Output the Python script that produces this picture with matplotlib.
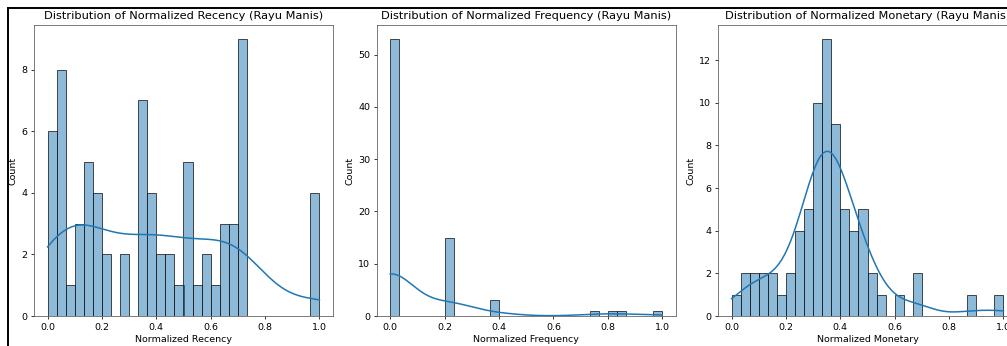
import numpy as np
import matplotlib
matplotlib.use("Agg")
import matplotlib.pyplot as plt
from matplotlib.lines import Line2D
import seaborn as sns

# ---- data: counts per histogram bin (30 equal bins on [0, 1]) ----
n_bins = 30
recency_counts = [6, 8, 1, 3, 5, 4, 2, 0, 2, 0, 7, 4, 2, 2, 1,
                  5, 1, 2, 1, 3, 3, 9, 0, 0, 0, 0, 0, 0, 0, 4]
frequency_counts = [53, 0, 0, 0, 0, 0, 15, 0, 0, 0, 0, 3, 0, 0, 0,
                    0, 0, 0, 0, 0, 0, 0, 1, 0, 1, 1, 0, 0, 0, 1]
monetary_counts = [1, 2, 2, 2, 2, 1, 2, 4, 5, 10, 13, 9, 5, 4, 5,
                   2, 1, 0, 1, 0, 2, 0, 0, 0, 0, 0, 1, 0, 0, 1]

titles = ["Distribution of Normalized Recency (Rayu Manis)",
          "Distribution of Normalized Frequency (Rayu Manis)",
          "Distribution of Normalized Monetary (Rayu Manis)"]
xlabels = ["Normalized Recency", "Normalized Frequency", "Normalized Monetary"]
ylabel = "Count"


def expand(counts):
    """Turn per-bin counts into sample values (min-max normalised data)."""
    vals = []
    for i, c in enumerate(counts):
        if i == 0:
            v = 0.0
        elif i == n_bins - 1:
            v = 1.0
        else:
            v = (i + 0.5) / n_bins
        vals.extend([v] * c)
    return np.array(vals)


W, H = 1007, 346
fig = plt.figure(figsize=(W / 100, H / 100), dpi=100)

s = 0.684
plt.rcParams.update({
    "axes.linewidth": 0.8 * s,
    "xtick.major.width": 0.8 * s,
    "ytick.major.width": 0.8 * s,
    "xtick.major.size": 3.5 * s,
    "ytick.major.size": 3.5 * s,
    "xtick.major.pad": 3.5 * s,
    "ytick.major.pad": 3.5 * s,
})

lefts = [34, 376.7, 718]
ax_w = 299
top_px, bottom_px = 25, 316
datasets = [recency_counts, frequency_counts, monetary_counts]

for k in range(3):
    ax = fig.add_axes([lefts[k] / W, (H - bottom_px) / H,
                       ax_w / W, (bottom_px - top_px) / H])
    data = expand(datasets[k])
    sns.histplot(x=data, bins=n_bins, kde=True, ax=ax, color="C0",
                 edgecolor="#1a1a1a", linewidth=0.55,
                 line_kws={"linewidth": 1.1})
    ax.set_title(titles[k], fontsize=12 * s, pad=6 * s)
    ax.set_xlabel(xlabels[k], fontsize=10 * s, labelpad=4 * s)
    ax.set_ylabel(ylabel, fontsize=10 * s, labelpad=4 * s)
    ax.tick_params(labelsize=10 * s)
    ax.set_xticks([0.0, 0.2, 0.4, 0.6, 0.8, 1.0])
    for sp in ax.spines.values():
        sp.set_color("#555555")

# screenshot frame lines
fig.add_artist(Line2D([8 / W, 1.0], [1 - 8 / H, 1 - 8 / H],
                      transform=fig.transFigure, color="black", linewidth=1.4))
fig.add_artist(Line2D([8 / W, 8 / W], [0, 1 - 8 / H],
                      transform=fig.transFigure, color="black", linewidth=1.4))

fig.savefig("out.png", dpi=100)
